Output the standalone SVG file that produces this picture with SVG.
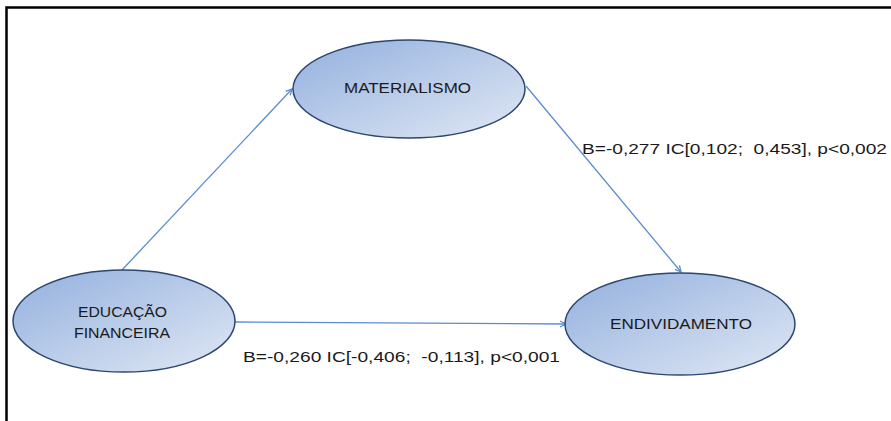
<svg xmlns="http://www.w3.org/2000/svg" width="891" height="421" viewBox="0 0 891 421">
<style>
.node{stroke:#2c4670;stroke-width:1.5;fill:url(#g)}
.lbl{font-family:"Liberation Sans",Arial,sans-serif;font-size:15px;fill:#1a1a1a;text-anchor:middle}
.edge{stroke:#5b8ccf;stroke-width:1.3;fill:none}
.elbl{font-family:"Liberation Sans",Arial,sans-serif;font-size:15.5px;fill:#1a1a1a}
</style>
<defs>
<linearGradient id="g" x1="0" y1="0" x2="1" y2="1">
<stop offset="0" stop-color="#93b0de"/>
<stop offset="1" stop-color="#e0e8f4"/>
</linearGradient>
<marker id="a" markerWidth="8" markerHeight="8" refX="7" refY="4" orient="auto" markerUnits="userSpaceOnUse">
<path d="M1,1 L7,4 L1,7" fill="none" stroke="#5b8ccf" stroke-width="1.3"/>
</marker>
</defs>
<rect x="0" y="0" width="891" height="421" fill="#fff"/>
<path d="M6.5,421 V7.5 H891" fill="none" stroke="#000" stroke-width="2.5"/>
<g id="connectors">
<line class="edge" x1="122" y1="270" x2="292" y2="89" marker-end="url(#a)"/>
<line class="edge" x1="526" y1="86" x2="681" y2="272" marker-end="url(#a)"/>
<line class="edge" x1="235" y1="322" x2="566" y2="324" marker-end="url(#a)"/>
<text class="elbl" x="582" y="154" textLength="305" lengthAdjust="spacingAndGlyphs" xml:space="preserve">B=-0,277 IC[0,102;  0,453], p&lt;0,002</text>
<text class="elbl" x="243" y="362" textLength="317" lengthAdjust="spacingAndGlyphs" xml:space="preserve">B=-0,260 IC[-0,406;  -0,113], p&lt;0,001</text>
</g>
<g id="materialismo">
<ellipse class="node" cx="409" cy="89" rx="116" ry="49"/>
<text class="lbl" x="407.5" y="93" textLength="127" lengthAdjust="spacingAndGlyphs">MATERIALISMO</text>
</g>
<g id="educacao">
<ellipse class="node" cx="124" cy="321" rx="111" ry="51"/>
<text class="lbl" x="122.5" y="317" textLength="89" lengthAdjust="spacingAndGlyphs">EDUCAÇÃO</text>
<text class="lbl" x="122" y="338" textLength="96" lengthAdjust="spacingAndGlyphs">FINANCEIRA</text>
</g>
<g id="endividamento">
<ellipse class="node" cx="680" cy="324" rx="115" ry="51"/>
<text class="lbl" x="681" y="329" textLength="142" lengthAdjust="spacingAndGlyphs">ENDIVIDAMENTO</text>
</g>
</svg>
